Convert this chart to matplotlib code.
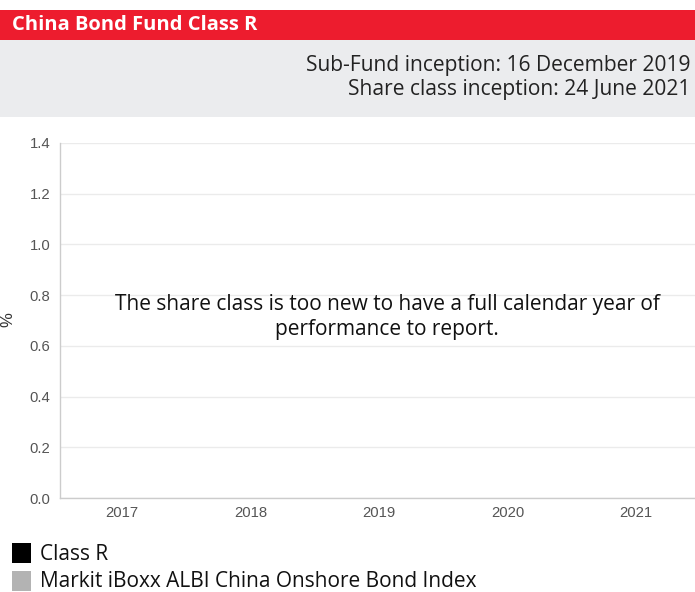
import numpy as np
import matplotlib
matplotlib.use("Agg")
import matplotlib.pyplot as plt
from matplotlib.patches import Rectangle

# ---- data ----
years = ["2017", "2018", "2019", "2020", "2021"]
class_r = [np.nan, np.nan, np.nan, np.nan, np.nan]
index_vals = [np.nan, np.nan, np.nan, np.nan, np.nan]
y_ticks = [0.0, 0.2, 0.4, 0.6, 0.8, 1.0, 1.2, 1.4]
series_names = ["Class R", "Markit iBoxx ALBI China Onshore Bond Index"]
series_colors = ["#000000", "#B3B3B3"]
title = "China Bond Fund Class R"
info_lines = ["Sub-Fund inception: 16 December 2019", "Share class inception: 24 June 2021"]
note = "The share class is too new to have a full calendar year of\nperformance to report."

W, H = 695, 592
fig = plt.figure(figsize=(W / 100, H / 100), dpi=100)
fig.patch.set_facecolor("white")

def fx(px):
    return px / W

def fy(py):
    return 1 - py / H

# red title bar
fig.patches.append(Rectangle((0, fy(40)), 1, fy(10) - fy(40), transform=fig.transFigure,
                             facecolor="#ED1C2E", edgecolor="none", zorder=0))
# gray info panel
fig.patches.append(Rectangle((0, fy(117)), 1, fy(40) - fy(117), transform=fig.transFigure,
                             facecolor="#EBECEE", edgecolor="none", zorder=0))
fig.text(fx(12), fy(25), title, color="white", fontsize=14.5, fontweight="bold",
         family="Open Sans", va="center", ha="left")
fig.text(fx(690), fy(65), info_lines[0], color="#222222", fontsize=15.1,
         family="Open Sans", va="center", ha="right")
fig.text(fx(690), fy(90), info_lines[1], color="#222222", fontsize=15.1,
         family="Open Sans", va="center", ha="right")

# axes
left, right, top, bottom = 60, 695, 143, 498
ax = fig.add_axes([fx(left), fy(bottom), fx(right) - fx(left), fy(top) - fy(bottom)])
x = np.arange(len(years))
w = 0.3
ax.bar(x - w / 2, class_r, w, color=series_colors[0])
ax.bar(x + w / 2, index_vals, w, color=series_colors[1])
ax.set_xlim(-0.482, 4.459)
ax.set_ylim(0, 1.4)
ax.set_yticks(y_ticks)
ax.set_yticklabels([f"{v:.1f}" for v in y_ticks])
ax.set_xticks(x)
ax.set_xticklabels(years)
for lab in ax.get_xticklabels() + ax.get_yticklabels():
    lab.set_family("Liberation Sans")
    lab.set_fontsize(10.7)
    lab.set_color("#555555")
ax.tick_params(axis="both", length=0)
ax.tick_params(axis="y", pad=7)
ax.tick_params(axis="x", pad=5.5)
ax.grid(axis="y", color="#EBEBEB", linewidth=1)
ax.set_axisbelow(True)
for s in ["top", "right"]:
    ax.spines[s].set_visible(False)
ax.spines["left"].set_color("#CCCCCC")
ax.spines["bottom"].set_color("#CCCCCC")
ax.spines["left"].set_linewidth(1)
ax.spines["bottom"].set_linewidth(1)

fig.text(fx(8), fy(320), "%", rotation=90, fontsize=12, color="#333333",
         family="Liberation Sans", va="center", ha="center")

fig.text(fx(387), fy(317), note, ha="center", va="center", fontsize=15,
         family="Open Sans", color="#111111", linespacing=1.2)

# legend
for i, (name, col) in enumerate(zip(series_names, series_colors)):
    yc = 553 + i * 28
    fig.patches.append(Rectangle((fx(12), fy(yc + 10)), fx(19), fy(yc - 10) - fy(yc + 10),
                                 transform=fig.transFigure, facecolor=col, edgecolor="none"))
    fig.text(fx(40), fy(yc + 2 - i * 1.5), name, fontsize=15, family="Open Sans",
             color="#111111", va="center", ha="left")

fig.savefig("out.png", dpi=100)
